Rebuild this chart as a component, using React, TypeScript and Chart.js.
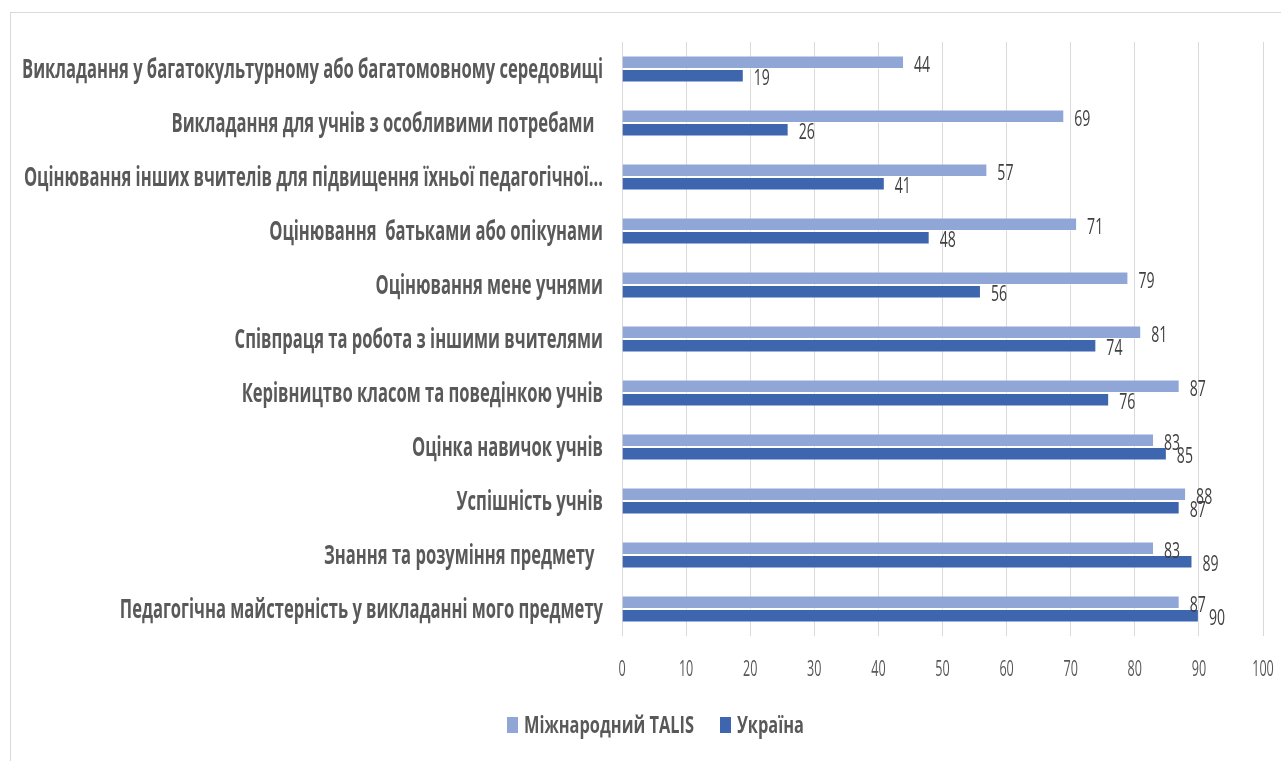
import React, { useEffect, useRef } from "react";
import { Chart, registerables } from "chart.js";

Chart.register(...registerables);

const categories = [
  "Викладання у багатокультурному або багатомовному середовищі",
  "Викладання для учнів з особливими потребами  ",
  "Оцінювання інших вчителів для підвищення їхньої педагогічної...",
  "Оцінювання  батьками або опікунами",
  "Оцінювання мене учнями",
  "Співпраця та робота з іншими вчителями",
  "Керівництво класом та поведінкою учнів",
  "Оцінка навичок учнів",
  "Успішність учнів",
  "Знання та розуміння предмету  ",
  "Педагогічна майстерність у викладанні мого предмету",
];

const talisValues = [44, 69, 57, 71, 79, 81, 87, 83, 88, 83, 87];
const ukraineValues = [19, 26, 41, 48, 56, 74, 76, 85, 87, 89, 90];

const seriesNames = ["Міжнародний TALIS", "Україна"];
const seriesColors = ["#8FA6D7", "#3D66AE"];

const xMin = 0;
const xMax = 100;
const xStep = 10;
const xTickValues = [0, 10, 20, 30, 40, 50, 60, 70, 80, 90, 100];

const FONT = "'Open Sans', 'Noto Sans', sans-serif";
const CAP = 0.714;
const TEXT = "#595959";
const LABEL_TEXT = "#404040";

function squeezeText(
  ctx: CanvasRenderingContext2D,
  text: string,
  x: number,
  yCenter: number,
  size: number,
  sx: number,
  align: CanvasTextAlign
) {
  ctx.save();
  ctx.translate(x, yCenter + (CAP * size) / 2);
  ctx.scale(sx, 1);
  ctx.textAlign = align;
  ctx.textBaseline = "alphabetic";
  ctx.fillText(text, 0, 0);
  ctx.restore();
}

const framePlugin = {
  id: "frame",
  beforeDraw(chart: any) {
    const ctx = chart.ctx;
    ctx.save();
    ctx.fillStyle = "#ffffff";
    ctx.fillRect(0, 0, chart.width, chart.height);
    ctx.strokeStyle = "#d9d9d9";
    ctx.lineWidth = 1;
    ctx.strokeRect(10.5, 12.5, 1400, 900);
    ctx.restore();
  },
};

const axisTextPlugin = {
  id: "axisText",
  afterDraw(chart: any) {
    const ctx = chart.ctx;
    const area = chart.chartArea;
    const yScale = chart.scales.y;
    const xScale = chart.scales.x;
    ctx.save();
    // category labels
    const ySize = 26;
    ctx.font = `bold ${ySize}px ${FONT}`;
    ctx.fillStyle = TEXT;
    const sxY = 581 / ctx.measureText(categories[0]).width;
    categories.forEach((c, i) => {
      const y = yScale.getPixelForTick(i);
      squeezeText(ctx, c, area.left - 19, y, ySize, sxY, "right");
    });
    // x tick labels
    const tSize = 21;
    ctx.font = `${tSize}px ${FONT}`;
    xTickValues.forEach((v) => {
      squeezeText(ctx, String(v), xScale.getPixelForValue(v), area.bottom + 33, tSize, 0.6, "center");
    });
    // legend
    const lSize = 23;
    ctx.font = `bold ${lSize}px ${FONT}`;
    const sxL = 170 / ctx.measureText(seriesNames[0]).width;
    const boxW = 11;
    const boxH = 16;
    let x = 507;
    const y = 725;
    seriesNames.forEach((n, i) => {
      ctx.fillStyle = seriesColors[i];
      ctx.fillRect(x, y - boxH / 2, boxW, boxH);
      ctx.fillStyle = TEXT;
      squeezeText(ctx, n, x + boxW + 6, y, lSize, sxL, "left");
      x += boxW + 6 + ctx.measureText(n).width * sxL + 26;
    });
    ctx.restore();
  },
};

const dataLabelPlugin = {
  id: "dataLabels",
  afterDatasetsDraw(chart: any) {
    const ctx = chart.ctx;
    const size = 22;
    ctx.save();
    ctx.font = `${size}px ${FONT}`;
    ctx.fillStyle = LABEL_TEXT;
    chart.data.datasets.forEach((ds: any, di: number) => {
      const meta = chart.getDatasetMeta(di);
      meta.data.forEach((el: any, i: number) => {
        squeezeText(ctx, String(ds.data[i]), el.x + 10, el.y + 1.5, size, 0.64, "left");
      });
    });
    ctx.restore();
  },
};

export default function App() {
  const ref = useRef<HTMLCanvasElement | null>(null);
  useEffect(() => {
    if (!ref.current) return;
    const chart = new Chart(ref.current, {
      type: "bar",
      data: {
        labels: categories,
        datasets: [
          {
            label: seriesNames[0],
            data: talisValues,
            backgroundColor: seriesColors[0],
            borderColor: "rgba(255,255,255,0.45)",
            borderWidth: 1,
            categoryPercentage: 0.5,
            barPercentage: 1.0,
          },
          {
            label: seriesNames[1],
            data: ukraineValues,
            backgroundColor: seriesColors[1],
            borderColor: "rgba(255,255,255,0.45)",
            borderWidth: 1,
            categoryPercentage: 0.5,
            barPercentage: 1.0,
          },
        ],
      },
      options: {
        indexAxis: "y",
        responsive: false,
        animation: false,
        devicePixelRatio: 1,
        layout: { padding: { left: 10, right: 18, top: 42, bottom: 0 } },
        plugins: {
          legend: { display: false },
          tooltip: { enabled: false },
        },
        scales: {
          x: {
            min: xMin,
            max: xMax,
            ticks: { stepSize: xStep, display: false },
            grid: { color: "#d9d9d9", lineWidth: 1, drawTicks: false },
            border: { display: false },
            afterFit: (s: any) => {
              s.height = 125;
            },
          },
          y: {
            ticks: { display: false, autoSkip: false },
            grid: { display: false, drawTicks: false },
            border: { display: false },
            afterFit: (s: any) => {
              s.width = 612;
            },
          },
        },
      } as any,
      plugins: [framePlugin, dataLabelPlugin, axisTextPlugin],
    });
    return () => chart.destroy();
  }, []);
  return (
    <div style={{ position: "absolute", left: 0, top: 0, width: 1281, height: 761 }}>
      <canvas ref={ref} width={1281} height={761} style={{ width: 1281, height: 761 }} />
    </div>
  );
}
